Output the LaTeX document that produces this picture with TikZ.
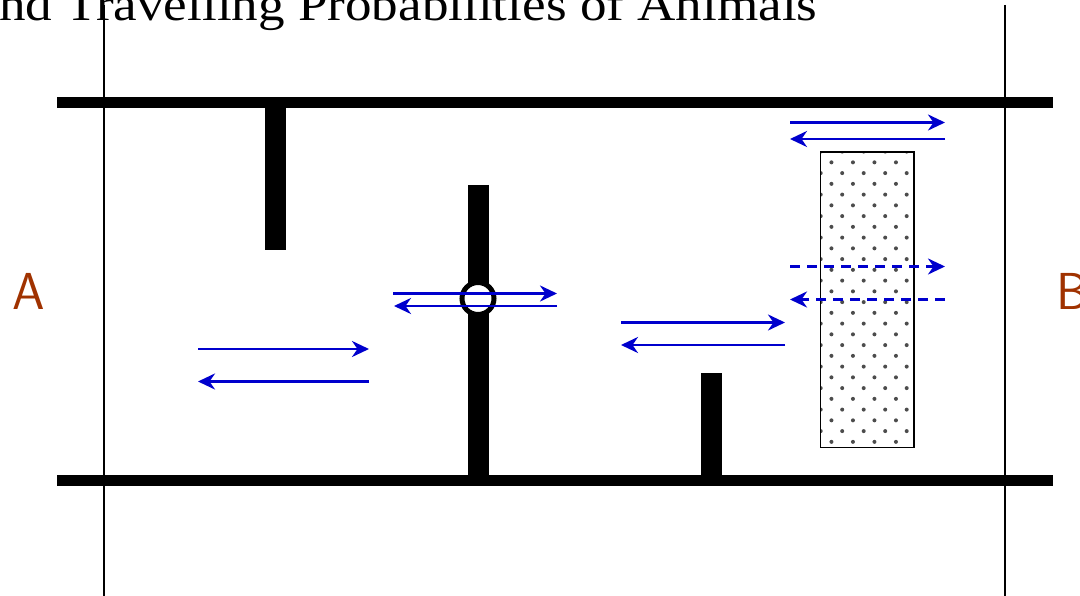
\documentclass[tikz,border=0pt]{standalone}
\usepackage{fontspec}
\setmainfont{Liberation Serif}
\usetikzlibrary{arrows.meta}
\definecolor{arrowblue}{RGB}{0,0,205}
\definecolor{labelbrown}{RGB}{160,50,0}
\begin{document}
\begin{tikzpicture}[x=1pt,y=-1pt,
  wall/.style={line width=11pt},
  stub/.style={line width=21pt},
  guide/.style={line width=1.4pt},
  flow/.style={draw=arrowblue,line width=2.8pt,-{Stealth[length=17pt,width=16pt,inset=5.5pt]}},
  dashflow/.style={flow,dash pattern=on 10pt off 7pt},
  label/.style={text=labelbrown,font=\sffamily\fontsize{52}{52}\selectfont,inner sep=0pt}
]
\useasboundingbox (0,0) rectangle (1080,596);
\clip (0,0) rectangle (1080,596);

% title
\node[anchor=base west,inner sep=0pt] (title) at (-1,21)
  {\fontsize{47}{50}\selectfont\scalebox{1.13}[1]{nd Travelling Probabilities of Animals}};

% guide lines
\coordinate (gA1) at (104,5); \coordinate (gA2) at (104,596);
\coordinate (gB1) at (1005,5); \coordinate (gB2) at (1005,596);
\draw[guide] (gA1) -- (gA2);
\draw[guide] (gB1) -- (gB2);

% walls
\coordinate (tw1) at (57,102.5); \coordinate (tw2) at (1053,102.5);
\coordinate (bw1) at (57,480.5); \coordinate (bw2) at (1053,480.5);
\draw[wall] (tw1) -- (tw2);
\draw[wall] (bw1) -- (bw2);
\coordinate (s1a) at (275.5,102); \coordinate (s1b) at (275.5,250);
\coordinate (s2a) at (478,185); \coordinate (s2b) at (478,480);
\coordinate (s3a) at (711,373); \coordinate (s3b) at (711,480);
\draw[stub] (s1a) -- (s1b);
\draw[stub] (s2a) -- (s2b);
\draw[stub] (s3a) -- (s3b);
\draw[line width=5pt,fill=white] (478,298.5) circle (16);

% dotted block
\fill[white] (820.5,152) rectangle (914,447.5);
\begin{scope}
  \clip (820.5,152) rectangle (914,447.5);
  \foreach \k in {0,...,28}{
    \foreach \j in {0,...,5}{
      \pgfmathsetmacro{\dx}{820.7+10.75*mod(\k,2)+21.5*\j}
      \pgfmathsetmacro{\dy}{151.6+10.75*\k}
      \fill[black!70] (\dx,\dy) circle (2);
    }
  }
\end{scope}
\draw[line width=1.5pt] (820.5,152) rectangle (914,447.5);

% labels
\node[label] (A) at (29,291.5) {A};
\node[label,anchor=west] (B) at (1056,291.5) {B};

% arrows
\coordinate (a1) at (198,349); \coordinate (a2) at (369,349);
\coordinate (a3) at (369,381.5); \coordinate (a4) at (198,381.5);
\draw[flow] (a1) -- (a2);
\draw[flow] (a3) -- (a4);

\coordinate (b1) at (393,293.5); \coordinate (b2) at (557,293.5);
\coordinate (b3) at (557,306); \coordinate (b4) at (394,306);
\draw[flow] (b1) -- (b2);
\draw[flow] (b3) -- (b4);

\coordinate (c1) at (621,322.5); \coordinate (c2) at (785,322.5);
\coordinate (c3) at (785,345); \coordinate (c4) at (621,345);
\draw[flow] (c1) -- (c2);
\draw[flow] (c3) -- (c4);

\coordinate (d1) at (790,122.5); \coordinate (d2) at (945,122.5);
\coordinate (d3) at (945,139); \coordinate (d4) at (790,139);
\draw[flow] (d1) -- (d2);
\draw[flow] (d3) -- (d4);

\coordinate (e1) at (790,266.5); \coordinate (e2) at (945,266.5);
\coordinate (e3) at (945,299.5); \coordinate (e4) at (790,299.5);
\draw[dashflow] (e1) -- (e2);
\draw[dashflow] (e3) -- (e4);
\end{tikzpicture}
\end{document}
